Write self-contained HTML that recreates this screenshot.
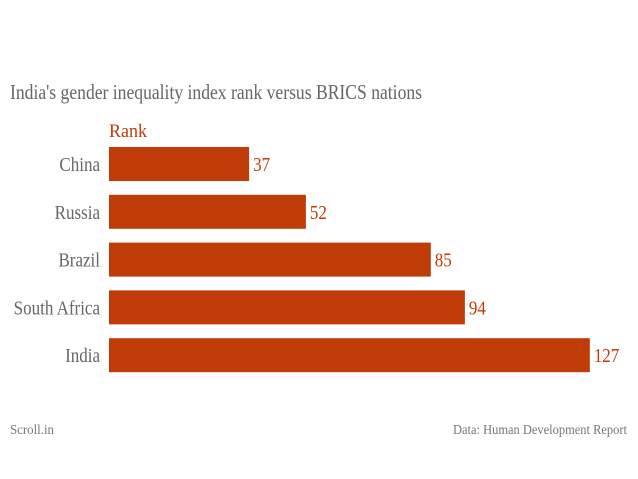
<!DOCTYPE html>
<html><head><meta charset="utf-8">
<style>
html,body{margin:0;padding:0;background:#fff;}
svg{display:block;font-family:"Liberation Serif","DejaVu Serif",serif;}
</style></head>
<body>
<svg id="chart" width="638" height="479">
  <text x="10" y="99" font-size="21" fill="#666" textLength="412" lengthAdjust="spacingAndGlyphs">India's gender inequality index rank versus BRICS nations</text>
  <text x="109" y="137" font-size="19" fill="#bf3b08" textLength="38" lengthAdjust="spacingAndGlyphs">Rank</text>
  <g id="bars"></g>
  <text x="10" y="434" font-size="14" fill="#777" textLength="44" lengthAdjust="spacingAndGlyphs">Scroll.in</text>
  <text x="627" y="434" font-size="14" fill="#777" text-anchor="end" textLength="174" lengthAdjust="spacingAndGlyphs">Data: Human Development Report</text>
</svg>
<script>
const categories = ["China","Russia","Brazil","South Africa","India"];
const ranks = [37,52,85,94,127];

const x0 = 109, pxPerUnit = 3.786;
const top0 = 147, pitch = 47.8, barH = 34;
const xScale = v => x0 + v * pxPerUnit;
const yScale = i => top0 + i * pitch;
const ns = "http://www.w3.org/2000/svg";
const g = document.getElementById("bars");
categories.forEach((c, i) => {
  const y = yScale(i);
  const r = document.createElementNS(ns, "rect");
  r.setAttribute("x", x0);
  r.setAttribute("y", y);
  r.setAttribute("width", xScale(ranks[i]) - x0);
  r.setAttribute("height", barH);
  r.setAttribute("fill", "#bf3b08");
  
  
  g.appendChild(r);
  const lab = document.createElementNS(ns, "text");
  lab.setAttribute("x", 100);
  lab.setAttribute("y", y + barH / 2 + 7);
  lab.setAttribute("text-anchor", "end");
  lab.setAttribute("font-size", "20");
  lab.setAttribute("fill", "#666");
  lab.setAttribute("transform", "translate(100," + 0 + ") scale(0.85,1) translate(-100,0)");
  lab.textContent = c;
  
  
  g.appendChild(lab);
  const v = document.createElementNS(ns, "text");
  const vx = xScale(ranks[i]) + 4;
  v.setAttribute("x", vx);
  v.setAttribute("y", y + barH / 2 + 7);
  v.setAttribute("font-size", "20");
  v.setAttribute("fill", "#bf3b08");
  v.setAttribute("transform", "translate(" + vx + ",0) scale(0.85,1) translate(" + (-vx) + ",0)");
  v.textContent = ranks[i];
  
  
  g.appendChild(v);
});
</script>
</body></html>
